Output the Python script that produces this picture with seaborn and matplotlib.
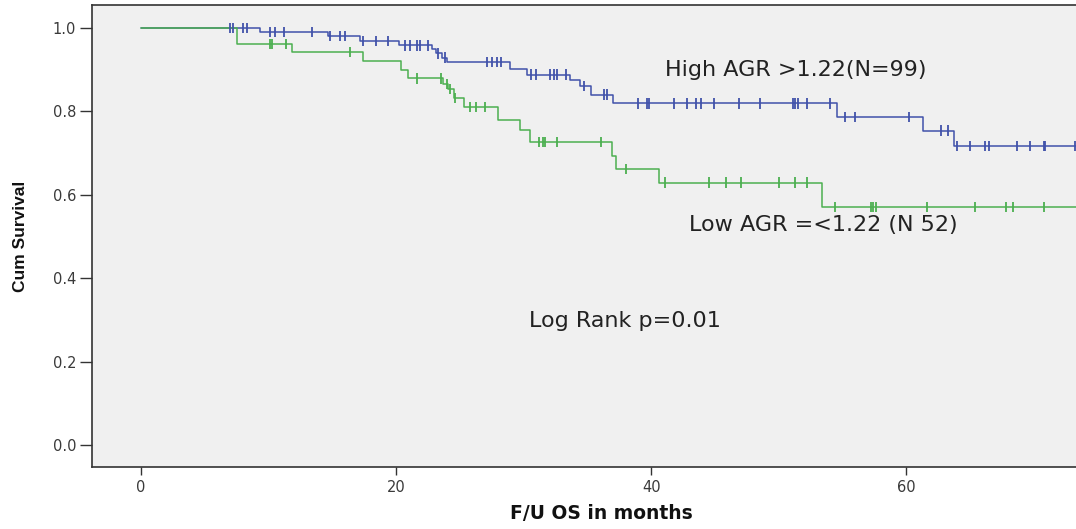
import numpy as np
import pandas as pd
import matplotlib
matplotlib.use("Agg")
import matplotlib.pyplot as plt
import seaborn as sns

# Kaplan-Meier overall survival by AGR group (months)
high_event_t = [9.3, 14.7, 17.2, 20.2, 22.8, 23.1, 23.6, 24.0, 28.9, 30.3, 33.6, 34.4,
                35.3, 37.0, 54.6, 61.3, 63.7]
high_event_s = [0.990, 0.980, 0.969, 0.958, 0.950, 0.939, 0.929, 0.918, 0.902, 0.888, 0.875,
                0.860, 0.840, 0.819, 0.787, 0.754, 0.717]
high_censor_t = [7.0, 7.2, 8.0, 8.3, 10.1, 10.5, 11.2, 13.4, 14.8, 15.6, 16.0, 17.4, 18.4,
                 19.4, 20.7, 21.1, 21.6, 21.9, 22.5, 23.3, 23.8, 27.1, 27.5, 27.9, 28.2,
                 30.6, 31.0, 32.1, 32.4, 32.6, 33.3, 34.7, 36.3, 36.5, 39.0, 39.7, 39.8,
                 41.8, 42.8, 43.5, 43.9, 44.9, 46.9, 48.5, 51.1, 51.3, 51.5, 52.2, 54.0,
                 55.2, 56.0, 60.2, 62.7, 63.3, 64.0, 65.0, 66.2, 66.5, 68.7, 69.7, 70.8,
                 70.9, 73.2]

low_event_t = [7.5, 11.8, 17.4, 20.4, 20.9, 23.7, 24.1, 24.5, 25.3, 28.0, 29.7, 30.5,
               36.9, 37.2, 40.6, 53.4]
low_event_s = [0.962, 0.942, 0.920, 0.900, 0.879, 0.866, 0.853, 0.832, 0.810, 0.779, 0.755,
               0.727, 0.694, 0.662, 0.629, 0.570]
low_censor_t = [10.1, 10.3, 11.4, 16.4, 21.6, 23.5, 24.0, 24.2, 24.6, 25.8, 26.3, 27.0,
                31.2, 31.5, 31.7, 32.6, 36.1, 38.0, 41.1, 44.5, 45.9, 47.0, 50.0, 51.3,
                52.2, 54.4, 57.2, 57.4, 57.6, 61.6, 65.4, 67.8, 68.4, 70.8]

follow_up_end = 74.0
group_names = ["High AGR >1.22(N=99)", "Low AGR =<1.22 (N 52)"]
group_colors = {"High": "#4152aa", "Low": "#4caf50"}

x_ticks = [0, 20, 40, 60]
y_ticks = [0.0, 0.2, 0.4, 0.6, 0.8, 1.0]


def step_frame(label, event_t, event_s):
    t = [0.0] + list(event_t) + [follow_up_end]
    s = [1.0] + list(event_s) + [event_s[-1]]
    return pd.DataFrame({"t": t, "s": s, "group": label})


def censor_frame(label, event_t, event_s, censor_t):
    et = np.asarray(event_t)
    es = np.concatenate([[1.0], event_s])
    idx = np.searchsorted(et, censor_t, side="right")
    return pd.DataFrame({"t": censor_t, "s": es[idx], "group": label})


curves = pd.concat([step_frame("High", high_event_t, high_event_s),
                    step_frame("Low", low_event_t, low_event_s)], ignore_index=True)
censors = pd.concat([censor_frame("High", high_event_t, high_event_s, high_censor_t),
                     censor_frame("Low", low_event_t, low_event_s, low_censor_t)],
                    ignore_index=True)

sns.set_theme(style="ticks")
plt.rcParams["font.family"] = ["DejaVu Sans"]

fig = plt.figure(figsize=(10.76, 5.29), dpi=100)
ax = fig.add_axes([92 / 1076, 1 - 467 / 529, 1 - 92 / 1076, (467 - 5) / 529])
ax.set_facecolor("#f0f0f0")

sns.lineplot(data=curves, x="t", y="s", hue="group", palette=group_colors,
             drawstyle="steps-post", estimator=None, sort=False, legend=False,
             linewidth=1.1, ax=ax)
sns.scatterplot(data=censors, x="t", y="s", hue="group", palette=group_colors,
                marker="|", s=55, linewidth=1.3, legend=False, ax=ax, zorder=3)

ax.set_xlim(-3.84, 73.3)
ax.set_ylim(-0.053, 1.055)
ax.set_xticks(x_ticks)
ax.set_yticks(y_ticks)
ax.set_yticklabels([f"{v:.1f}" for v in y_ticks], fontsize=10.5, color="#3a3a3a")
ax.set_xticklabels([str(v) for v in x_ticks], fontsize=10.5, color="#3a3a3a")
ax.tick_params(axis="y", direction="out", length=8.5, width=1.0, color="#333333", pad=3)
ax.tick_params(axis="x", direction="out", length=6, width=1.0, color="#333333", pad=3)

for side in ("left", "bottom", "top"):
    ax.spines[side].set_color("#333333")
    ax.spines[side].set_linewidth(1.2)
ax.spines["right"].set_visible(False)
ax.spines["top"].set_visible(True)

ax.set_xlabel("F/U OS in months", fontsize=13.5, fontweight="bold", color="#111111")
ax.set_ylabel("Cum Survival", fontsize=12.5, fontweight="bold", color="#111111",
              family=["Liberation Sans Narrow", "Liberation Sans"])
ax.xaxis.set_label_coords(0.518, -0.08)
ax.yaxis.set_label_coords(-0.065, 0.5)

text_font = dict(fontsize=16, color="#222222", va="center", ha="left")
ax.text(41.1, 0.899, group_names[0], **text_font)
ax.text(43.0, 0.528, group_names[1], **text_font)
ax.text(30.4, 0.297, "Log Rank p=0.01", **text_font)

fig.savefig("out.png", dpi=100, facecolor="white")
